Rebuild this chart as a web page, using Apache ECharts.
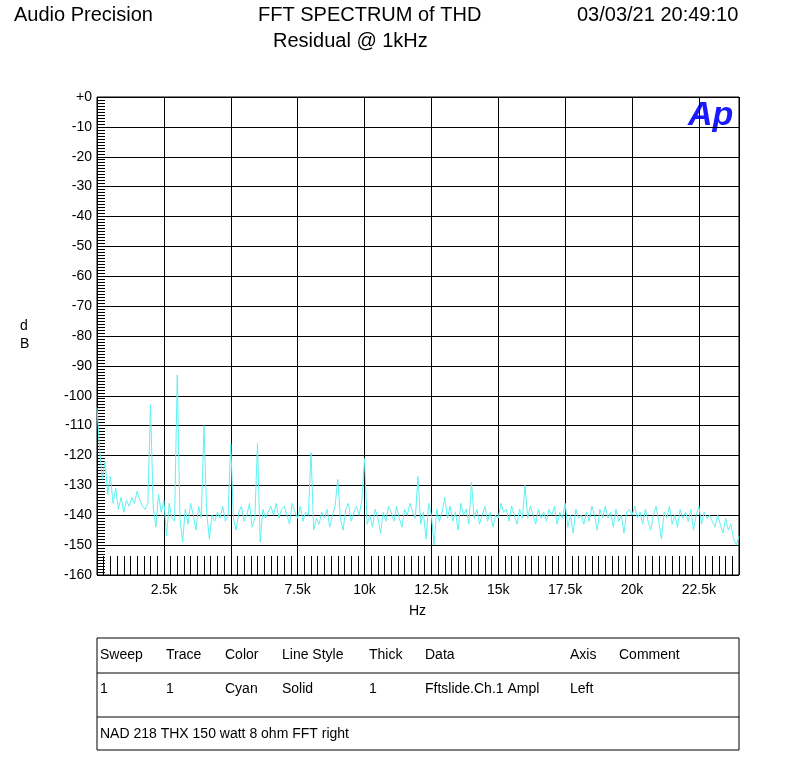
<!DOCTYPE html>
<html>
<head>
<meta charset="utf-8">
<script src="https://cdn.jsdelivr.net/npm/echarts@6/dist/echarts.min.js"></script>
<style>
  html, body { margin: 0; padding: 0; background: #fff; }
  #chart { width: 799px; height: 775px; }
</style>
</head>
<body>
<div id="chart"></div>
<script>
// FFT residual, 100 Hz steps from 0 to 24 kHz (dB)
const freqStep = 100;
const levels = [
  -104, -118, -128, -122, -133, -127, -136, -131, -138, -134,
  -139, -135, -137, -134, -136, -132, -135, -137, -138, -136,
  -103, -137, -144, -133, -139, -135, -147, -136, -141, -142,
  -93, -141, -149, -138, -143, -136, -140, -145, -137, -141,
  -110, -139, -148, -140, -142, -139, -141, -137, -142, -140,
  -116, -141, -145, -139, -137, -142, -140, -136, -144, -141,
  -116, -149, -138, -141, -139, -137, -140, -136, -141, -138,
  -137, -140, -143, -136, -139, -141, -137, -142, -139, -140,
  -119, -145, -141, -143, -139, -141, -138, -144, -140, -137,
  -128, -141, -145, -138, -136, -142, -139, -137, -140, -135,
  -121, -143, -140, -144, -138, -141, -146, -139, -142, -137,
  -139, -142, -137, -141, -144, -138, -140, -136, -139, -141,
  -127, -143, -139, -148, -136, -140, -150, -138, -142, -139,
  -134, -141, -137, -142, -139, -145, -136, -140, -138, -143,
  -129, -141, -138, -143, -140, -137, -142, -139, -144, -140,
  -141, -136, -139, -138, -142, -137, -140, -143, -138, -141,
  -130, -141, -137, -140, -143, -138, -141, -139, -142, -138,
  -140, -137, -143, -139, -141, -136, -144, -140, -146, -138,
  -141, -140, -143, -139, -142, -137, -140, -145, -138, -141,
  -137, -141, -139, -144, -138, -142, -140, -146, -139, -138,
  -140, -137, -141, -139, -143, -138, -142, -145, -140, -137,
  -142, -148, -139, -141, -137, -143, -140, -144, -138, -141,
  -139, -142, -138, -145, -140, -137, -143, -139, -141, -140,
  -142, -144, -140, -143, -146, -141, -145, -143, -148, -150,
  -147
];

const tableHeaders = ['Sweep', 'Trace', 'Color', 'Line Style', 'Thick', 'Data', 'Axis', 'Comment'];
const tableRow = ['1', '1', 'Cyan', 'Solid', '1', 'Fftslide.Ch.1 Ampl', 'Left', ''];
const tableCols = [100, 166, 225, 282, 369, 425, 570, 619];
const footNote = 'NAD 218 THX 150 watt 8 ohm FFT right';

const seriesData = levels.map((v, i) => [i * freqStep, v]);
const font = 'Liberation Sans, Arial, sans-serif';

function txt(x, y, t, size, extra) {
  return { type: 'text', left: x, top: y, style: Object.assign({ text: t, font: size + 'px ' + font, fill: '#000' }, extra || {}) };
}

const graphics = [
  txt(14, 5, 'Audio Precision', 20),
  txt(258, 5, 'FFT SPECTRUM of THD', 20),
  txt(273, 31, 'Residual @ 1kHz', 20),
  txt(577, 5, '03/03/21 20:49:10', 20),
  { type: 'text', left: 688, top: 99, style: { text: 'Ap', font: 'italic bold 34px ' + font, fill: '#1a1aff' } },
  txt(20, 319, 'd', 14),
  txt(20, 337, 'B', 14),
  txt(409, 604, 'Hz', 14),
  { type: 'rect', shape: { x: 97, y: 638, width: 642, height: 112 }, style: { fill: 'none', stroke: '#000', lineWidth: 1 } },
  { type: 'line', shape: { x1: 97, y1: 673, x2: 739, y2: 673 }, style: { stroke: '#000' } },
  { type: 'line', shape: { x1: 97, y1: 717, x2: 739, y2: 717 }, style: { stroke: '#000' } },
  txt(100, 727, footNote, 14)
];
tableHeaders.forEach((h, i) => graphics.push(txt(tableCols[i], 648, h, 14)));
tableRow.forEach((h, i) => graphics.push(txt(tableCols[i], 682, h, 14)));

const chart = echarts.init(document.getElementById('chart'));
chart.setOption({
  backgroundColor: '#fff',
  animation: false,
  grid: { left: 97, right: 60, top: 97, bottom: 200, show: true, borderColor: '#000', borderWidth: 1 },
  xAxis: {
    type: 'value', min: 0, max: 24000, interval: 2500,
    axisLine: { show: false, onZero: false },
    axisTick: { show: false, inside: true },
    minorTick: { show: true, splitNumber: 10, length: 19, lineStyle: { color: '#000' } },
    splitLine: { lineStyle: { color: '#000' } },
    axisLabel: {
      color: '#000', fontFamily: font, fontSize: 14, margin: 8,
      showMinLabel: false, showMaxLabel: false,
      formatter: v => (v / 1000) + 'k'
    }
  },
  yAxis: {
    type: 'value', min: -160, max: 0, interval: 10,
    axisLine: { show: false, onZero: false },
    axisTick: { show: false, inside: true },
    minorTick: { show: true, splitNumber: 10, length: 8, lineStyle: { color: '#000' } },
    splitLine: { lineStyle: { color: '#000' } },
    axisLabel: {
      color: '#000', fontFamily: font, fontSize: 14, margin: 5,
      formatter: v => (v === 0 ? '+0' : String(v))
    }
  },
  series: [{
    type: 'line', data: seriesData, symbol: 'none',
    lineStyle: { color: '#5ff2f2', width: 1 }
  }],
  graphic: graphics
});
</script>
</body>
</html>
